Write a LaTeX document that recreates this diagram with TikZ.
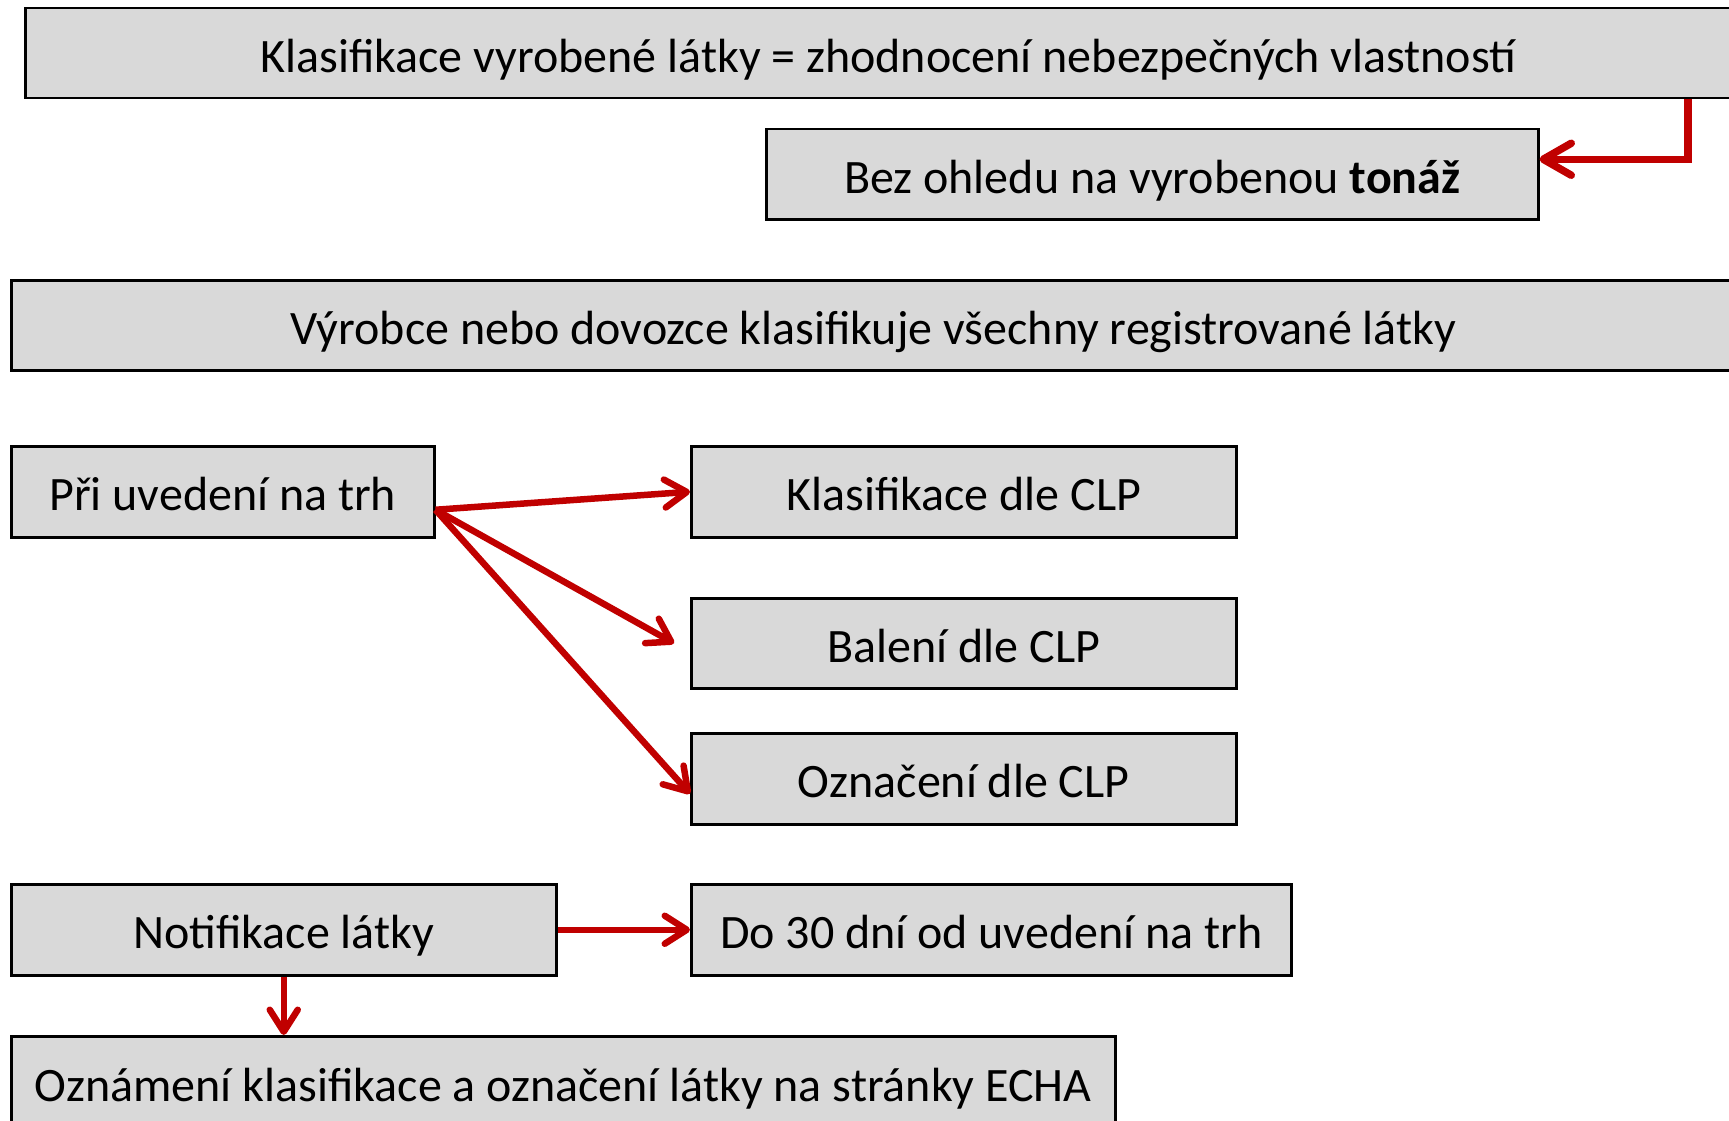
\documentclass[tikz,border=0pt]{standalone}
\usepackage{fontspec}
\setmainfont{Carlito}
\usetikzlibrary{arrows.meta,calc}
\definecolor{boxgray}{HTML}{D9D9D9}
\definecolor{arrred}{HTML}{C00000}
\begin{document}
\begin{tikzpicture}[x=1pt,y=-1pt,
  box/.style={draw=black,line width=2.5pt,fill=boxgray,anchor=north west,inner sep=0pt,
    minimum height=90pt,text height=40pt,text depth=2pt,font=\fontsize{48}{58}\selectfont},
  arr/.style={draw=arrred,line width=6.5pt,
    -{Straight Barb[length=22pt,width=28pt,line cap=round,line join=round]}},
  arrbig/.style={draw=arrred,line width=7.5pt,
    -{Straight Barb[length=28pt,width=32pt,line cap=round,line join=round]}}]
\useasboundingbox (0,0) rectangle (1729,1121);
\clip (0,0) rectangle (1729,1121);
\node[box,minimum width=1726pt] (k) at (24,7) {Klasifikace vyrobené látky = zhodnocení nebezpečných vlastností};
\node[box,minimum width=772pt] (bez) at (765,128) {Bez ohledu na vyrobenou \textbf{tonáž}};
\node[box,minimum width=1724pt] (vyr) at (10,279) {Výrobce nebo dovozce klasifikuje všechny registrované látky};
\node[box,minimum width=423pt,minimum height=91pt] (pri) at (10,445) {Při uvedení na trh};
\node[box,minimum width=545pt,minimum height=91pt] (klas) at (690,445) {Klasifikace dle CLP};
\node[box,minimum width=545pt] (bal) at (690,597) {Balení dle CLP};
\node[box,minimum width=545pt,minimum height=91pt] (ozn) at (690,732) {Označení dle CLP};
\node[box,minimum width=545pt,minimum height=91pt] (notif) at (10,883) {Notifikace látky};
\node[box,minimum width=600pt,minimum height=91pt] (do) at (690,883) {Do 30 dní od uvedení na trh};
\node[box,minimum width=1104pt,minimum height=92pt] (oznam) at (10,1035) {Oznámení klasifikace a označení látky na stránky ECHA};
\draw[arrbig] ([xshift=1664pt]k.south west) |- ([yshift=15pt]bez.east);
\draw[arr] ([yshift=-18pt]pri.east) -- (klas.west);
\draw[arr] ([yshift=-18pt]pri.east) -- ([xshift=-16pt]bal.west);
\draw[arr] ([yshift=-18pt]pri.east) -- ([yshift=-15pt]ozn.west);
\draw[arr] (notif.east) -- (do.west);
\draw[arr] (notif.south) -- (notif.south |- oznam.north);
\end{tikzpicture}
\end{document}
